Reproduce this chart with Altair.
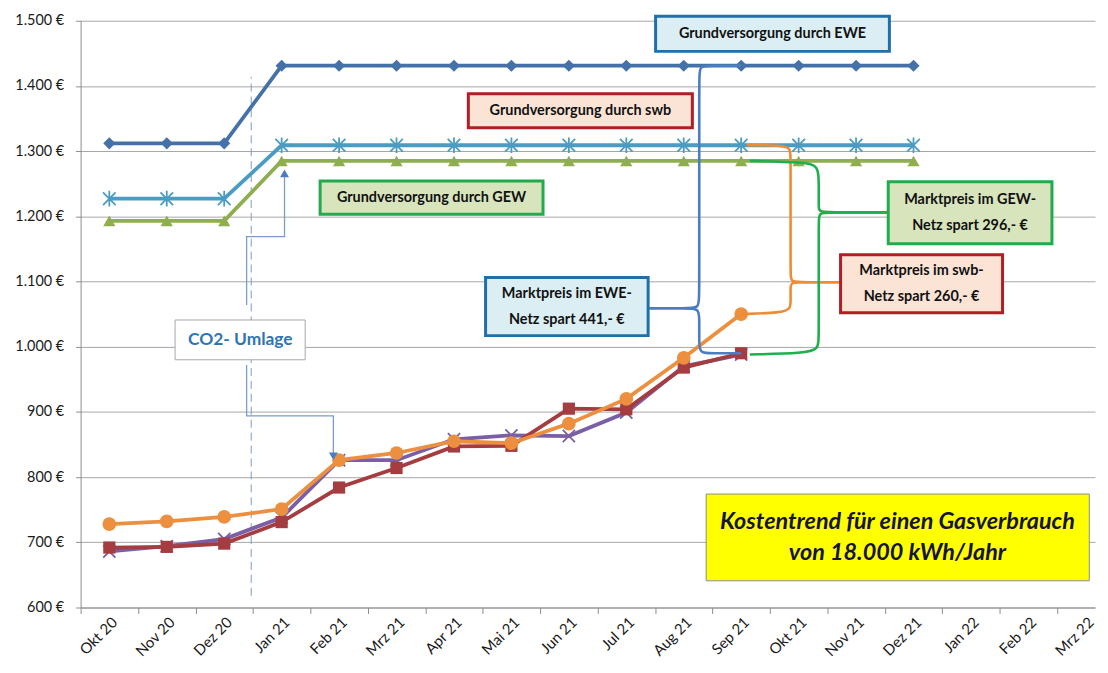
import altair as alt
import pandas as pd

# ---------------- data ----------------
months = ["Okt 20", "Nov 20", "Dez 20", "Jan 21", "Feb 21", "Mrz 21", "Apr 21", "Mai 21",
          "Jun 21", "Jul 21", "Aug 21", "Sep 21", "Okt 21", "Nov 21", "Dez 21",
          "Jan 22", "Feb 22", "Mrz 22"]

grund_ewe = [1312, 1312, 1312, 1431, 1431, 1431, 1431, 1431, 1431, 1431, 1431, 1431, 1431, 1431, 1431]
grund_swb = [1227, 1227, 1227, 1309, 1309, 1309, 1309, 1309, 1309, 1309, 1309, 1309, 1309, 1309, 1309]
grund_gew = [1193, 1193, 1193, 1285, 1285, 1285, 1285, 1285, 1285, 1285, 1285, 1285, 1285, 1285, 1285]
markt_ewe = [686, 694, 705, 738, 826, 826, 858, 864, 863, 899, 970, 988]
markt_gew = [692, 693, 698, 731, 784, 814, 847, 848, 905, 904, 968, 990]
markt_swb = [728, 732, 739, 751, 826, 837, 855, 852, 882, 920, 983, 1050]

y_ticks = list(range(600, 1501, 100))

# ---------------- scales / axes ----------------
W, H = 1020, 590
X_MAX = 17.66
step = W / X_MAX

month_js = "[" + ",".join("'" + m + "'" for m in months) + "]"
xs = alt.Scale(domain=[0, X_MAX], nice=False, zero=False)
ys = alt.Scale(domain=[600, 1500], nice=False, zero=False)
xaxis = alt.Axis(values=list(range(18)), labelExpr=month_js + "[datum.value]",
                 labelOffset=step / 2 + 5, labelAngle=-45, labelAlign="right", labelBaseline="middle",
                 labelOverlap=False, labelFlush=False, labelBound=False, tickSize=6, grid=False,
                 domainColor="#8c8c8c", tickColor="#8c8c8c", title=None, labelFontSize=15,
                 labelPadding=6)
yaxis = alt.Axis(values=y_ticks, labelExpr="replace(format(datum.value, ','), ',', '.') + ' €'",
                 grid=True, gridColor="#a6a6a6", gridWidth=1, domainColor="#8c8c8c",
                 tickColor="#8c8c8c", tickSize=5, title=None, labelFontSize=14.5, labelFlush=False,
                 labelPadding=12)


def X(f="x"):
    return alt.X(f, type="quantitative", scale=xs, axis=xaxis)


def Y(f="y"):
    return alt.Y(f, type="quantitative", scale=ys, axis=yaxis)


def series_df(vals):
    return pd.DataFrame({"x": [i + 0.5 for i in range(len(vals))], "y": vals,
                         "m": months[:len(vals)]})


STAR = "M-1,-1L1,1M-1,1L1,-1M0,-1.25L0,1.25"
XMARK = "M-1,-1L1,1M-1,1L1,-1"

series = [
    (grund_ewe, "#4571a9", "diamond", True, 150),
    (grund_swb, "#4a9cc2", STAR, False, 160),
    (grund_gew, "#8eae50", "triangle-up", True, 150),
    (markt_ewe, "#7b5fa6", XMARK, False, 150),
    (markt_gew, "#a53c3f", "square", True, 150),
    (markt_swb, "#ec8f3e", "circle", True, 190),
]

layers = []

# dashed vertical line (CO2)
co2_line = pd.DataFrame({"x": [2.97], "y": [618], "y2": [1414]})
layers.append(alt.Chart(co2_line).mark_rule(color="#7d9cc2", strokeDash=[8, 5], strokeWidth=1)
              .encode(x=X(), y=Y(), y2="y2:Q"))

for vals, col, shp, filled, sz in series:
    df = series_df(vals)
    layers.append(alt.Chart(df).mark_line(color=col, strokeWidth=3.8).encode(x=X(), y=Y()))
    if filled:
        pm = alt.Chart(df).mark_point(shape=shp, filled=True, color=col, size=sz, opacity=1)
    else:
        pm = alt.Chart(df).mark_point(shape=shp, filled=False, color=col, size=sz,
                                      strokeWidth=1.8, opacity=1)
    layers.append(pm.encode(x=X(), y=Y()))

# ---------------- braces ----------------
braces = [
    ("ewe_t", "#4a7ec0", [(11.5, 1431), (10.98, 1431), (10.77, 1431), (10.77, 1413), (10.77, 1078),
                          (10.77, 1059), (10.54, 1059), (9.9, 1059)]),
    ("ewe_b", "#4a7ec0", [(11.5, 990), (10.98, 990), (10.77, 990), (10.77, 1009), (10.77, 1041),
                          (10.77, 1059), (10.54, 1059), (9.9, 1059)]),
    ("swb_t", "#ee8c36", [(11.6, 1309), (12.2, 1309), (12.36, 1305), (12.36, 1290), (12.36, 1110),
                          (12.36, 1099), (12.6, 1099), (13.23, 1099)]),
    ("swb_b", "#ee8c36", [(11.5, 1050), (12.2, 1052), (12.36, 1058), (12.36, 1070), (12.36, 1090),
                          (12.36, 1099), (12.6, 1099), (13.23, 1099)]),
    ("gew_t", "#1faf4c", [(11.65, 1285), (12.6, 1283), (12.85, 1278), (12.85, 1250), (12.85, 1214),
                          (12.85, 1206), (13.2, 1206), (14.06, 1206)]),
    ("gew_b", "#1faf4c", [(11.65, 988), (12.6, 990), (12.85, 996), (12.85, 1015), (12.85, 1198),
                          (12.85, 1206), (13.2, 1206), (14.06, 1206)]),
]
brows = []
for bid, col, pts in braces:
    for k, (bx, by) in enumerate(pts):
        brows.append({"id": bid, "c": col, "o": k, "x": bx, "y": by})
bdf = pd.DataFrame(brows)
layers.append(alt.Chart(bdf).mark_line(interpolate="basis", strokeWidth=2.6).encode(
    x=X(), y=Y(), detail="id:N", order="o:Q", stroke=alt.Stroke("c:N", scale=None)))

# ---------------- CO2 arrows ----------------
arrows = [
    ("up", [(2.89, 1064), (2.89, 1169), (3.55, 1169), (3.55, 1262)]),
    ("down", [(2.89, 972), (2.89, 894), (4.4, 894), (4.4, 836)]),
]
arows = []
for aid, pts in arrows:
    for k, (ax, ay) in enumerate(pts):
        arows.append({"id": aid, "o": k, "x": ax, "y": ay})
adf = pd.DataFrame(arows)
layers.append(alt.Chart(adf).mark_line(color="#7a9ccc", strokeWidth=1.3).encode(
    x=X(), y=Y(), detail="id:N", order="o:Q"))
heads = pd.DataFrame({"x": [3.55, 4.4], "y": [1266, 832], "s": ["triangle-up", "triangle-down"]})
layers.append(alt.Chart(heads).mark_point(filled=True, color="#4a7ec0", size=80, opacity=1).encode(
    x=X(), y=Y(), shape=alt.Shape("s:N", scale=None)))

# ---------------- boxes ----------------
boxes = pd.DataFrame([
    {"x": 10.01, "x2": 14.08, "y": 1507, "y2": 1453, "f": "#dbeef4", "s": "#1f6fa8", "w": 3,
     "t": "Grundversorgung durch EWE", "n": 1},
    {"x": 6.75, "x2": 10.65, "y": 1388, "y2": 1336, "f": "#fbe4d6", "s": "#b01f24", "w": 3,
     "t": "Grundversorgung durch swb", "n": 1},
    {"x": 4.17, "x2": 8.05, "y": 1254, "y2": 1203, "f": "#d8e4bc", "s": "#22aa4c", "w": 3,
     "t": "Grundversorgung durch GEW", "n": 1},
    {"x": 7.05, "x2": 9.88, "y": 1106, "y2": 1017, "f": "#dbeef4", "s": "#1f6fa8", "w": 3,
     "t": "Marktpreis im EWE-\nNetz spart 441,- €", "n": 2},
    {"x": 13.23, "x2": 16.05, "y": 1141, "y2": 1052, "f": "#fbe4d6", "s": "#b01f24", "w": 3,
     "t": "Marktpreis im swb-\nNetz spart 260,- €", "n": 2},
    {"x": 14.06, "x2": 16.91, "y": 1253, "y2": 1158, "f": "#d8e4bc", "s": "#22aa4c", "w": 3,
     "t": "Marktpreis  im GEW-\nNetz spart 296,- €", "n": 2},
    {"x": 1.645, "x2": 3.91, "y": 1041, "y2": 980, "f": "#ffffff", "s": "#a6a6a6", "w": 1,
     "t": "", "n": 0},
    {"x": 10.89, "x2": 17.56, "y": 774, "y2": 641, "f": "#ffff00", "s": "#8c8c8c", "w": 1,
     "t": "", "n": 0},
])
boxes["cx"] = (boxes["x"] + boxes["x2"]) / 2
boxes["cy"] = (boxes["y"] + boxes["y2"]) / 2
layers.append(alt.Chart(boxes).mark_rect().encode(
    x=X(), x2="x2:Q", y=Y(), y2="y2:Q",
    fill=alt.Fill("f:N", scale=None), stroke=alt.Stroke("s:N", scale=None),
    strokeWidth=alt.StrokeWidth("w:Q", scale=None)))
layers.append(alt.Chart(boxes[boxes["n"] == 1]).mark_text(
    font="Lato", fontWeight="bold", fontSize=14.5, color="#111111",
    baseline="middle", align="center").encode(
    x=X("cx"), y=Y("cy"), text="t:N"))
layers.append(alt.Chart(boxes[boxes["n"] == 2]).mark_text(
    font="Lato", fontWeight="bold", fontSize=14.5, color="#111111", lineBreak="\n",
    baseline="middle", align="center", lineHeight=26, dy=-13).encode(
    x=X("cx"), y=Y("cy"), text="t:N"))

co2_text = pd.DataFrame({"x": [2.78], "y": [1010], "t": ["CO2- Umlage"]})
layers.append(alt.Chart(co2_text).mark_text(
    font="Lato", fontWeight="bold", fontSize=17.5, color="#2e75b6", baseline="middle",
    align="center").encode(x=X(), y=Y(), text="t:N"))

title_text = pd.DataFrame({"x": [14.22], "y": [707.5],
                           "t": ["Kostentrend für einen Gasverbrauch\nvon 18.000 kWh/Jahr"]})
layers.append(alt.Chart(title_text).mark_text(
    font="Lato", fontWeight="bold", fontStyle="italic", fontSize=23.5, color="#14143c",
    baseline="middle", align="center", lineBreak="\n", lineHeight=31, dy=-15.5).encode(
    x=X(), y=Y(), text="t:N"))

chart = alt.layer(*layers).properties(
    width=W, height=H,
    autosize=alt.AutoSizeParams(type="none"),
    padding={"left": 73, "top": 11, "right": 5, "bottom": 54},
    background="white",
).configure_view(stroke=None).configure_axis(labelFont="Lato", labelColor="#1a1a1a")

chart.save("out.html", embed_options={"renderer": "svg", "actions": False})
